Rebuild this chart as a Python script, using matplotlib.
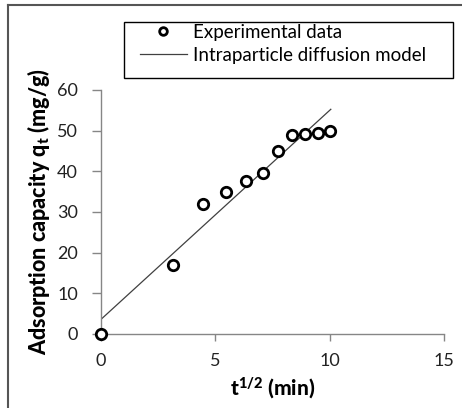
import matplotlib.pyplot as plt
import matplotlib.lines as mlines
from matplotlib.patches import Rectangle
import numpy as np

plt.rcParams['font.family'] = 'Lato'
plt.rcParams['mathtext.fontset'] = 'custom'
plt.rcParams['mathtext.rm'] = 'Lato'
plt.rcParams['mathtext.bf'] = 'Lato:black'
plt.rcParams['mathtext.it'] = 'Lato:italic'

# Data
sqrt_t = [0, 3.16, 4.47, 5.48, 6.32, 7.07, 7.75, 8.37, 8.94, 9.49, 10.0]
qt = [0, 17.0, 32.0, 35.0, 37.6, 39.6, 44.9, 48.9, 49.1, 49.5, 49.8]

# intraparticle diffusion model fit
intercept = 3.6
slope = 5.14
fit_x = np.array([0, 10.05])
fit_y = intercept + slope * fit_x

fig = plt.figure(figsize=(4.62, 4.08), dpi=100)
ax = fig.add_axes([101 / 462, 1 - 334 / 408, 343 / 462, 244 / 408])

ax.plot(fit_x, fit_y, color='#404040', lw=0.9, zorder=2)
ax.plot(sqrt_t, qt, 'o', ms=7.5, mfc='white', mec='black', mew=2,
        clip_on=False, zorder=3)

ax.set_xlim(0, 15)
ax.set_ylim(0, 60)
ax.set_xticks([0, 5, 10, 15])
ax.set_yticks(range(0, 61, 10))

for s in ['top', 'right']:
    ax.spines[s].set_visible(False)
for s in ['left', 'bottom']:
    ax.spines[s].set_color('#868686')
    ax.spines[s].set_linewidth(1)
ax.tick_params(axis='both', direction='out', width=1, color='#868686',
               labelsize=13, labelcolor='#222222')
ax.tick_params(axis='y', length=6.5, pad=10)
ax.tick_params(axis='x', length=5, pad=9)

ax.set_xlabel(r'$\mathbf{t^{1/2}}$ (min)', fontsize=15, fontweight='black', labelpad=4)
ax.set_ylabel(r'Adsorption capacity $\mathbf{q_t}$ (mg/g)', fontsize=15.5, fontweight='black', labelpad=4)

# legend
h_exp = mlines.Line2D([], [], ls='none', marker='o', ms=5.5, mfc='white', mec='black', mew=2)
h_fit = mlines.Line2D([], [], color='#404040', lw=0.9)
fig.legend([h_exp, h_fit], ['Experimental data', 'Intraparticle diffusion model'],
           loc='upper left', bbox_to_anchor=(140 / 462, 1 - 24 / 408),
           fontsize=13.5, frameon=False, borderpad=0, handlelength=2.5,
           handletextpad=0.35, labelspacing=0.3, borderaxespad=0)
fig.add_artist(Rectangle((124 / 462, 1 - 78 / 408), 329 / 462, 56 / 408,
                         transform=fig.transFigure, fill=False, edgecolor='black', lw=1))

# outer border (top and left visible)
fig.add_artist(mlines.Line2D([8 / 462, 1], [1 - 5 / 408, 1 - 5 / 408], color='#555555', lw=1.5,
                             transform=fig.transFigure))
fig.add_artist(mlines.Line2D([8 / 462, 8 / 462], [0, 1 - 5 / 408], color='#555555', lw=1.5,
                             transform=fig.transFigure))

fig.savefig('out.png', dpi=100)
